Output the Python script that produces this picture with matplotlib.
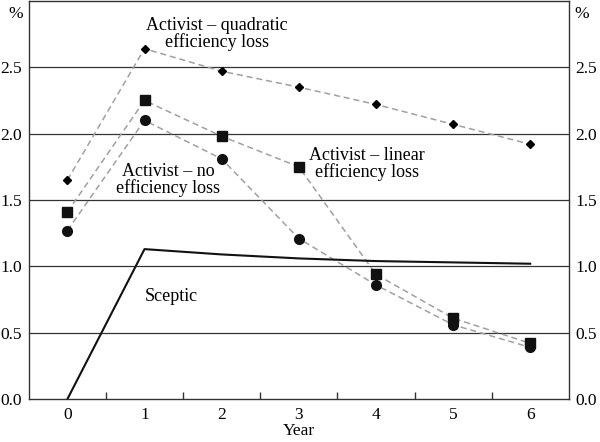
import numpy as np
import matplotlib.pyplot as plt

plt.rcParams['font.family'] = ['Liberation Serif', 'DejaVu Serif']

years = [0, 1, 2, 3, 4, 5, 6]
quadratic = [1.65, 2.64, 2.47, 2.35, 2.22, 2.07, 1.92]
linear = [1.41, 2.25, 1.98, 1.75, 0.94, 0.61, 0.42]
no_loss = [1.27, 2.10, 1.81, 1.21, 0.86, 0.56, 0.39]
sceptic = [0.0, 1.13, 1.09, 1.06, 1.04, 1.03, 1.02]
yticks = [0.0, 0.5, 1.0, 1.5, 2.0, 2.5]

fs = 13
tfs = 12.5
fig = plt.figure(figsize=(6, 4.42), dpi=100)
ax = fig.add_axes([0.048, 0.097, 0.9, 0.901])

for y in yticks[1:]:
    ax.axhline(y, color='#333333', lw=0.9, zorder=1)

dash = dict(color='#a0a0a0', ls=(0, (4, 2.5)), lw=1.1, zorder=2)
ax.plot(years, quadratic, marker='D', ms=4.5, mfc='black', mec='black', **dash)
ax.plot(years, linear, marker='s', ms=7.5, mfc='#111111', mec='#111111', **dash)
ax.plot(years, no_loss, marker='o', ms=7, mfc='#111111', mec='#111111', **dash)
ax.plot(years, sceptic, color='#111111', lw=1.5, zorder=3)

ax.set_xlim(-0.5, 6.5)
ax.set_ylim(0, 3.0)

ax.set_xticks(years)
ax.set_xticks(np.arange(0.5, 6.5, 1), minor=True)
ax.tick_params(axis='x', which='major', length=0, labelsize=tfs, pad=6)
ax.tick_params(axis='x', which='minor', direction='in', length=5, width=1, color='#333333')

ax.set_yticks(yticks)
ax.set_yticklabels(['%.1f' % v for v in yticks])
ax.tick_params(axis='y', length=0, labelsize=tfs, pad=5, labelright=True, right=False)

for s in ax.spines.values():
    s.set_color('#333333')
    s.set_linewidth(1)

ax.text(-0.57, 2.9, '%', ha='right', va='center', fontsize=tfs)
ax.text(6.57, 2.9, '%', ha='left', va='center', fontsize=tfs)

ax.set_xlabel('Year', fontsize=tfs, labelpad=0)

ax.text(1.94, 2.75, 'Activist \u2013 quadratic\nefficiency loss', ha='center', va='center',
        fontsize=fs, linespacing=0.95)
ax.text(3.88, 1.77, 'Activist \u2013 linear\nefficiency loss', ha='center', va='center',
        fontsize=fs, linespacing=0.95)
ax.text(1.31, 1.65, 'Activist \u2013 no\nefficiency loss', ha='center', va='center',
        fontsize=fs, linespacing=0.95)
ax.text(1.35, 0.77, 'Sceptic', ha='center', va='center', fontsize=fs)

fig.savefig('out.png', dpi=100)
